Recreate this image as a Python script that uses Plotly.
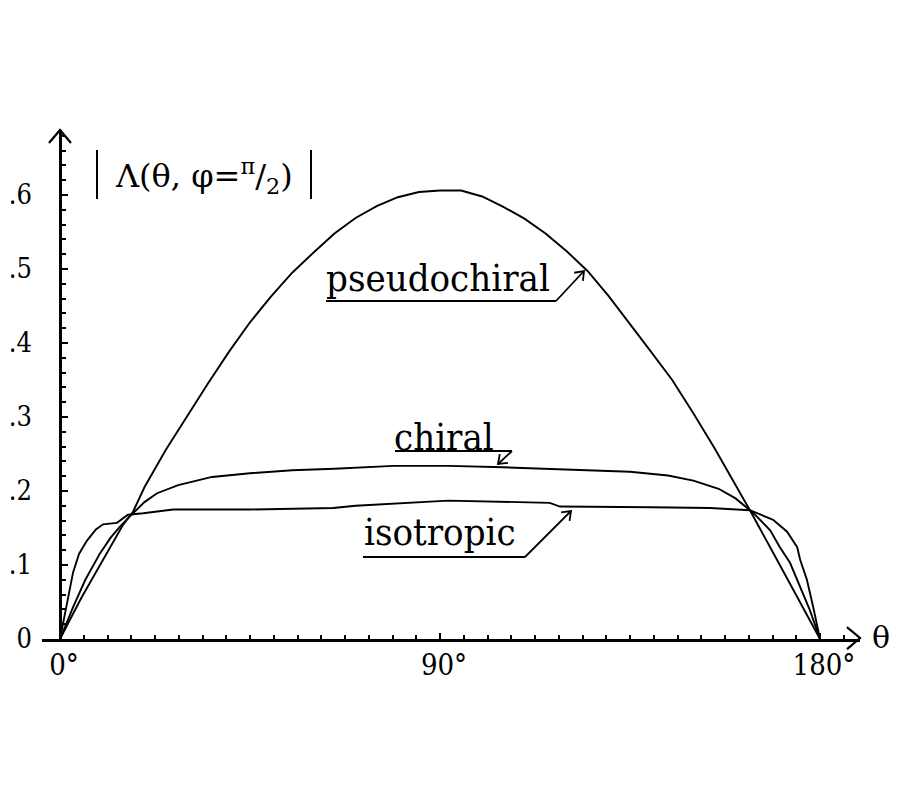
import math
import plotly.graph_objects as go

# ---- data ----
theta_pseudo = [0, 5, 10, 15, 17.3, 20, 25, 30, 35, 40, 45, 50, 55, 60, 65, 70, 75, 80, 85, 90,
                95, 100, 105, 110, 115, 120, 125, 130, 135, 140, 145, 150, 155, 160, 163.4, 170, 175, 180]
val_pseudo = [0, 0.055, 0.105, 0.155, 0.172, 0.205, 0.255, 0.300, 0.345, 0.388, 0.428, 0.463, 0.495,
              0.522, 0.548, 0.569, 0.585, 0.597, 0.604, 0.606, 0.606, 0.598, 0.584, 0.568, 0.548, 0.524,
              0.497, 0.463, 0.426, 0.388, 0.350, 0.305, 0.258, 0.208, 0.174, 0.105, 0.053, 0]

theta_chiral = [0, 1.5, 3.1, 6, 9.5, 12, 14.2, 17.3, 20, 23, 28, 36, 45, 55, 65, 79, 92, 105, 115,
                125, 135, 144, 150, 156, 160, 163.4, 164.6, 168.2, 170.5, 172.9, 175.3, 177.6, 180]
val_chiral = [0, 0.022, 0.043, 0.080, 0.116, 0.137, 0.152, 0.170, 0.185, 0.197, 0.208, 0.219, 0.224,
              0.228, 0.230, 0.234, 0.234, 0.232, 0.230, 0.228, 0.226, 0.221, 0.214, 0.203, 0.190, 0.174,
              0.168, 0.147, 0.124, 0.103, 0.070, 0.039, 0]

theta_iso = [0, 1.2, 3.1, 4.5, 6.4, 8.5, 10.2, 13.5, 16.1, 19.7, 26.8, 45, 64.7, 70, 88, 92, 116,
             118.4, 140, 154, 163.4, 167.5, 168.9, 172.2, 174.6, 175.3, 176.9, 178.4, 180]
val_iso = [0, 0.035, 0.090, 0.115, 0.133, 0.148, 0.155, 0.157, 0.168, 0.170, 0.175, 0.175, 0.177,
           0.180, 0.186, 0.187, 0.184, 0.179, 0.178, 0.177, 0.174, 0.164, 0.161, 0.145, 0.124, 0.107,
           0.080, 0.043, 0]

x_tickvals = [0, 90, 180]
x_ticktext = ["0°", "90°", "180°"]
y_tickvals = [0, 0.1, 0.2, 0.3, 0.4, 0.5, 0.6]
y_ticktext = ["0", ".1", ".2", ".3", ".4", ".5", ".6"]
curve_labels = ["pseudochiral", "chiral", "isotropic"]
y_title = "Λ(θ, φ=<sup>π</sup>/<sub>2</sub>)"
x_title = "θ"

# ---- geometry (page pixels; the page body has an 8px margin) ----
OFF = 8
W, H = 884, 784
PL, PR, PT, PB = 42, 860, 130, 639          # plot area on the page
X0PX, X180PX, Y0PX = 60, 820, 639
PX_PER_DEG = (X180PX - X0PX) / 180.0
PX_PER_UNIT = 740.0
x_range = [(PL - X0PX) / PX_PER_DEG, (PR - X0PX) / PX_PER_DEG]
y_range = [0, (Y0PX - PT) / PX_PER_UNIT]
ML, MT = PL - OFF, PT - OFF
MR, MB = W - (PR - OFF), H - (PB - OFF)


def px(p):
    return (p - PL) / (PR - PL)


def py(p):
    return (PB - p) / (PB - PT)


SERIF = "DejaVu Serif Condensed, DejaVu Serif, serif"
SERIF_W = "DejaVu Serif, serif"
LINE = dict(color="black", width=1.9)

fig = go.Figure()
for th, v, name in [(theta_pseudo, val_pseudo, curve_labels[0]),
                    (theta_chiral, val_chiral, curve_labels[1]),
                    (theta_iso, val_iso, curve_labels[2])]:
    fig.add_trace(go.Scatter(x=th, y=v, mode="lines", name=name, line=LINE,
                             showlegend=False, hoverinfo="skip"))

annotations = []
shapes = []


def seg(x0, y0, x1, y1, w=2):
    shapes.append(dict(type="line", xref="paper", yref="paper", x0=px(x0), y0=py(y0),
                       x1=px(x1), y1=py(y1), line=dict(color="black", width=w)))


def chevron(tail, tip, length, half, w=2):
    ux, uy = tip[0] - tail[0], tip[1] - tail[1]
    n = math.hypot(ux, uy)
    ux, uy = ux / n, uy / n
    nx, ny = -uy, ux
    a = (tip[0] - length * ux + half * nx, tip[1] - length * uy + half * ny)
    b = (tip[0] - length * ux - half * nx, tip[1] - length * uy - half * ny)
    path = "M{:.5f},{:.5f} L{:.5f},{:.5f} L{:.5f},{:.5f}".format(
        px(a[0]), py(a[1]), px(tip[0]), py(tip[1]), px(b[0]), py(b[1]))
    shapes.append(dict(type="path", xref="paper", yref="paper", path=path,
                       line=dict(color="black", width=w)))


# axis arrowheads
chevron((X0PX, 300), (X0PX, PT), 13, 11, w=2.2)
chevron((700, Y0PX), (PR, Y0PX - 1), 13, 11, w=2.2)

# axis titles
annotations.append(dict(x=px(892), y=py(637), xref="paper", yref="paper", text=x_title,
                        xanchor="right", yanchor="middle",
                        showarrow=False, font=dict(family=SERIF_W, size=30, color="black")))
annotations.append(dict(x=px(204), y=py(176), xref="paper", yref="paper", text=y_title,
                        xanchor="center", yanchor="middle",
                        showarrow=False, font=dict(family=SERIF_W, size=32, color="black")))
seg(97, 150, 97, 199)
seg(311, 150, 311, 199)

# curve labels with underline + leader arrow
label_specs = [
    # text, text left, text center y, underline y, underline start, underline end, arrow tip
    (curve_labels[0], 324, 278, 301, 326, 556, (584, 271)),
    (curve_labels[1], 392, 437, 451, 395, 512, (498, 464)),
    (curve_labels[2], 362, 532, 557, 363, 525, (571, 511)),
]
for txt, tx, ty, uy_, u0, u1, tip in label_specs:
    annotations.append(dict(x=px(tx), y=py(ty), xref="paper", yref="paper", text=txt,
                            showarrow=False, xanchor="left", yanchor="middle",
                            font=dict(family=SERIF, size=38, color="black")))
    seg(u0, uy_, u1, uy_)
    seg(u1, uy_, tip[0], tip[1], w=1.8)
    chevron((u1, uy_), tip, 8, 6, w=1.8)

fig.update_layout(
    width=W, height=H,
    margin=dict(l=ML, r=MR, t=MT, b=MB, pad=0, autoexpand=False),
    paper_bgcolor="white", plot_bgcolor="white",
    showlegend=False,
    annotations=annotations,
    shapes=shapes,
    xaxis=dict(range=x_range, showgrid=False, zeroline=False, showline=True, linecolor="black",
               linewidth=2.5, ticks="inside", ticklen=6, tickwidth=2, tickcolor="black",
               tickvals=x_tickvals, ticktext=x_ticktext, ticklabelstandoff=-2, ticklabelshift=4,
               automargin=False,
               tickfont=dict(family=SERIF, size=29, color="black"),
               minor=dict(dtick=5.625, tick0=0, ticks="inside", ticklen=4, tickwidth=1.5,
                          tickcolor="black", showgrid=False)),
    yaxis=dict(range=y_range, showgrid=False, zeroline=False, showline=True, linecolor="black",
               linewidth=2.5, anchor="free", position=(X0PX - PL) / (PR - PL),
               ticks="inside", ticklen=6, tickwidth=2, tickcolor="black",
               tickvals=y_tickvals, ticktext=y_ticktext, ticklabelstandoff=22,
               automargin=False,
               tickfont=dict(family=SERIF, size=27, color="black"),
               minor=dict(dtick=0.02, tick0=0, ticks="inside", ticklen=4, tickwidth=1.5,
                          tickcolor="black", showgrid=False)),
)

fig.write_html("out.html")
